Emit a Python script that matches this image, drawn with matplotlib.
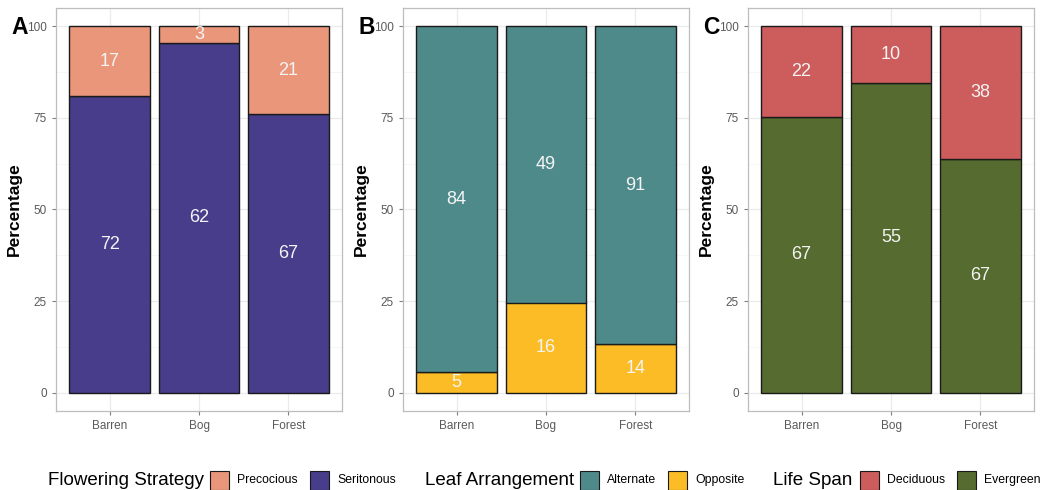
import matplotlib
matplotlib.use('Agg')
import matplotlib.pyplot as plt
from matplotlib.patches import Rectangle

plt.rcParams['font.family'] = ['Liberation Sans', 'DejaVu Sans']

sites = ["Barren", "Bog", "Forest"]

# counts per site for each trait (bottom segment first)
seritonous = [72, 62, 67]
precocious = [17, 3, 21]
alternate = [84, 49, 91]
opposite = [5, 16, 14]
evergreen = [67, 55, 67]
deciduous = [22, 10, 38]

panels = [
    ("A", "Flowering Strategy", ("Seritonous", seritonous, "#483D8B"), ("Precocious", precocious, "#E9967A")),
    ("B", "Leaf Arrangement", ("Opposite", opposite, "#FBBC25"), ("Alternate", alternate, "#4F8A8B")),
    ("C", "Life Span", ("Evergreen", evergreen, "#556B2F"), ("Deciduous", deciduous, "#CD5C5C")),
]
# legend entries in alphabetical order
legend_order = [("Precocious", "Seritonous"), ("Alternate", "Opposite"), ("Deciduous", "Evergreen")]

fig = plt.figure(figsize=(10.44, 4.9), dpi=100)
W, H = 1044, 490
lefts = [56, 403, 748]
width_px = 286
bottom_px, top_px = 411, 8

x = range(len(sites))
for i, (letter, title, lower, upper) in enumerate(panels):
    ax = fig.add_axes([lefts[i] / W, 1 - bottom_px / H, width_px / W, (bottom_px - top_px) / H])
    low_name, low_vals, low_col = lower
    up_name, up_vals, up_col = upper
    totals = [a + b for a, b in zip(low_vals, up_vals)]
    low_pct = [100 * a / t for a, t in zip(low_vals, totals)]
    up_pct = [100 * b / t for b, t in zip(up_vals, totals)]

    ax.bar(x, low_pct, width=0.9, color=low_col, edgecolor="#1a1a1a", linewidth=1.0, zorder=3)
    ax.bar(x, up_pct, bottom=low_pct, width=0.9, color=up_col, edgecolor="#1a1a1a", linewidth=1.0, zorder=3)

    # counts in the middle of each segment
    for j in x:
        ax.text(j, low_pct[j] / 2, str(low_vals[j]), ha="center", va="center",
                color="#f4f4f4", fontsize=13, zorder=4)
        ax.text(j, low_pct[j] + up_pct[j] / 2, str(up_vals[j]), ha="center", va="center",
                color="#f4f4f4", fontsize=13, zorder=4)

    ax.set_xlim(-0.6, 2.6)
    ax.set_ylim(-5, 105)
    ax.set_yticks([0, 25, 50, 75, 100])
    ax.set_yticks([12.5, 37.5, 62.5, 87.5], minor=True)
    ax.set_xticks(list(x))
    ax.set_xticklabels(sites)
    ax.tick_params(axis="both", which="major", labelsize=8.5, colors="#7f7f7f",
                   labelcolor="#5a5a5a", length=3, width=0.8)
    ax.tick_params(axis="y", which="minor", length=0)
    ax.grid(True, which="major", color="#ebebeb", linewidth=0.9, zorder=0)
    ax.grid(True, which="minor", axis="y", color="#f3f3f3", linewidth=0.5, zorder=0)
    for s in ax.spines.values():
        s.set_color("#bdbdbd")
        s.set_linewidth(0.9)
    ax.set_ylabel("Percentage", fontsize=12.5, fontweight="bold", labelpad=4)

    fig.text((lefts[i] - 45) / W, 1 - 27 / H, letter, fontsize=16.5, fontweight="bold",
             ha="left", va="center")

# bottom legends: title, then two keys with labels
legend_y = 480
title_x = [48, 425, 773]
key_x = [[210, 310], [580, 668], [860, 957]]
for i, (letter, title, lower, upper) in enumerate(panels):
    cols = {lower[0]: lower[2], upper[0]: upper[2]}
    fig.text(title_x[i] / W, 1 - legend_y / H, title, fontsize=13.5, ha="left", va="center")
    for k, name in enumerate(legend_order[i]):
        kx = key_x[i][k]
        fig.patches.append(Rectangle((kx / W, 1 - (legend_y + 10) / H), 19 / W, 19 / H,
                                     transform=fig.transFigure, facecolor=cols[name],
                                     edgecolor="#1a1a1a", linewidth=0.8))
        fig.text((kx + 27) / W, 1 - legend_y / H, name, fontsize=8.8, ha="left", va="center")

fig.savefig("out.png", dpi=100)
